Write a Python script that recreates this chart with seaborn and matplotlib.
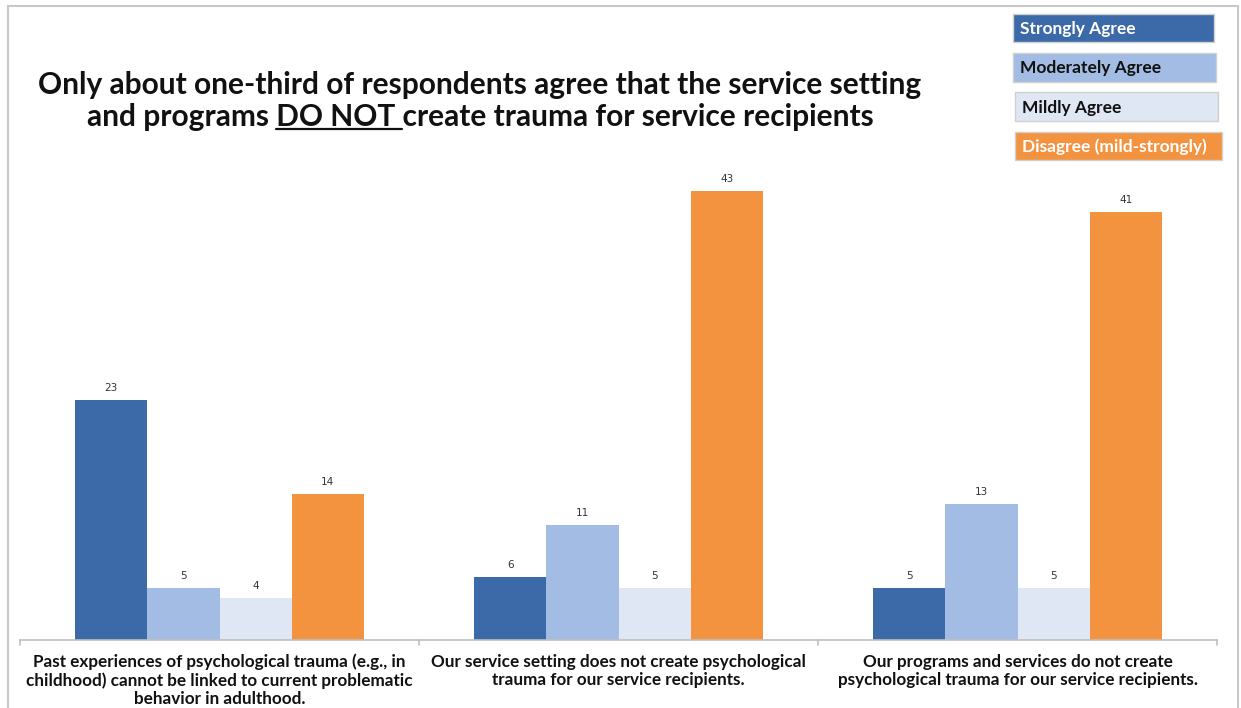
import matplotlib
matplotlib.use("Agg")
import matplotlib.pyplot as plt
import seaborn as sns
import pandas as pd
from matplotlib.patches import Rectangle
from matplotlib.text import Text

categories = [
    "Past experiences of psychological trauma (e.g., in\nchildhood) cannot be linked to current problematic\nbehavior in adulthood.",
    "Our service setting does not create psychological\ntrauma for our service recipients.",
    "Our programs and services do not create\npsychological trauma for our service recipients.",
]
series = ["Strongly Agree", "Moderately Agree", "Mildly Agree", "Disagree (mild-strongly)"]
strongly_agree = [23, 6, 5]
moderately_agree = [5, 11, 13]
mildly_agree = [4, 5, 5]
disagree = [14, 43, 41]
colors = ["#3C69A7", "#A3BCE3", "#E0E7F4", "#F3923F"]

rows = []
for s, vals in zip(series, [strongly_agree, moderately_agree, mildly_agree, disagree]):
    for c, v in zip(categories, vals):
        rows.append({"cat": c, "series": s, "value": v})
df = pd.DataFrame(rows)

sns.set_theme(style="white")
plt.rcParams["font.family"] = ["Lato", "DejaVu Sans"]

W, H = 1241, 708
fig = plt.figure(figsize=(W / 100, H / 100), dpi=100)
ax = fig.add_axes([20 / W, 1 - 640 / H, (1217 - 20) / W, (640 - 170) / H])

sns.barplot(data=df, x="cat", y="value", hue="series", order=categories,
            hue_order=series, palette=colors, width=0.724, saturation=1,
            edgecolor="none", linewidth=0, legend=False, ax=ax)

for cont in ax.containers:
    ax.bar_label(cont, padding=5, fontsize=7.5, color="#333333", family="DejaVu Sans")

ax.set_ylim(0, 45)
ax.set_xlim(-0.5, 2.5)
ax.set_xlabel("")
ax.set_ylabel("")
ax.set_yticks([])
for side in ["top", "left", "right"]:
    ax.spines[side].set_visible(False)
ax.spines["bottom"].set_color("#BFBFBF")
ax.spines["bottom"].set_linewidth(1.2)
ax.set_xticks([])

# category separators / ticks
for xv in [-0.5, 0.5, 1.5, 2.5]:
    ax.plot([xv, xv], [0, -0.45], color="#BFBFBF", lw=1.2, clip_on=False)

for i, c in enumerate(categories):
    ax.text(i, -1.3, c, ha="center", va="top", fontsize=12.3, fontweight="bold",
            color="#111111", linespacing=1.16, transform=ax.transData)

TS = 21.5
t1 = fig.text(480 / W, 1 - 85 / H,
              "Only about one-third of respondents agree that the service setting",
              ha="center", va="center", fontsize=TS, fontweight="bold", color="#111111")
t2 = fig.text(480 / W, 1 - 117 / H,
              "and programs DO NOT create trauma for service recipients",
              ha="center", va="center", fontsize=TS, fontweight="bold", color="#111111")

# underline "DO NOT "
fig.canvas.draw()
r = fig.canvas.get_renderer()
bb = t2.get_window_extent(r)
pre = Text(0, 0, "and programs ", fontsize=TS, fontweight="bold", figure=fig)
mid = Text(0, 0, "DO NOT ", fontsize=TS, fontweight="bold", figure=fig)
pre_w = pre.get_window_extent(r).width
mid_w = mid.get_window_extent(r).width
x0 = bb.x0 + pre_w
x1 = x0 + mid_w
yline = bb.y0 + 2
fig.add_artist(plt.Line2D([x0 / W, x1 / W], [yline / H, yline / H],
                          color="#111111", lw=1.6, transform=fig.transFigure))

# legend boxes
legend_boxes = [
    (1013, 14, 201, 28, "Strongly Agree", "white"),
    (1013, 53, 203, 29, "Moderately Agree", "#111111"),
    (1015, 92, 203, 29, "Mildly Agree", "#111111"),
    (1015, 132, 207, 28, "Disagree (mild-strongly)", "white"),
]
for (x, y, w, h, lab, tc), col in zip(legend_boxes, colors):
    fig.add_artist(Rectangle((x / W, 1 - (y + h) / H), w / W, h / H,
                             transform=fig.transFigure, facecolor=col,
                             edgecolor="#D0D0D0", lw=1.0))
    fig.text((x + 7) / W, 1 - (y + h / 2 + 1) / H, lab, ha="left", va="center",
             fontsize=12.5, fontweight="bold", color=tc)

# figure border
fig.add_artist(Rectangle((8 / W, -0.01), (1238 - 8) / W, (1 - 6 / H) + 0.01,
                         transform=fig.transFigure, facecolor="none",
                         edgecolor="#C8C8C8", lw=1.5))

fig.savefig("out.png", dpi=100)
